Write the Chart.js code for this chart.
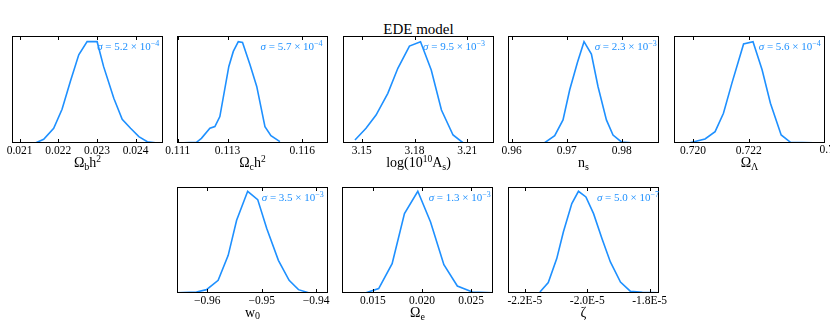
<!DOCTYPE html>
<html>
<head>
<meta charset="utf-8">
<script src="https://cdn.jsdelivr.net/npm/chart.js@4.4.0/dist/chart.umd.min.js"></script>
<style>
body{margin:0;background:#fff;width:830px;height:327px;overflow:hidden;position:relative;font-family:'Liberation Serif',serif}
canvas{position:absolute}
#title{position:absolute;left:343px;width:151px;top:20px;text-align:center;font-size:15px;line-height:18px;color:#000}
</style>
</head>
<body>
<div id="title">EDE model</div>
<canvas id="c1" width="211" height="157" style="left:-18px;top:26px"></canvas>
<canvas id="c2" width="211" height="157" style="left:147px;top:26px"></canvas>
<canvas id="c3" width="211" height="157" style="left:313px;top:26px"></canvas>
<canvas id="c4" width="211" height="157" style="left:478px;top:26px"></canvas>
<canvas id="c5" width="211" height="157" style="left:644px;top:26px"></canvas>
<canvas id="c6" width="211" height="156" style="left:147px;top:177px"></canvas>
<canvas id="c7" width="211" height="156" style="left:312px;top:177px"></canvas>
<canvas id="c8" width="211" height="156" style="left:478px;top:177px"></canvas>
<script>
// posterior curves, normalised to peak = 1
const obhX = [0.020802, 0.021407, 0.021622, 0.021881, 0.022097, 0.022313, 0.022529, 0.022745, 0.023004, 0.023170, 0.023435, 0.023652, 0.023868, 0.024083, 0.024301, 0.024560, 0.024715];
const obhY = [0, 0, 0.036, 0.145, 0.333, 0.61, 0.871, 1.0, 1.0, 0.756, 0.442, 0.234, 0.145, 0.063, 0.013, 0, 0];
const ochX = [0.11099, 0.11175, 0.11195, 0.11229, 0.11249, 0.11269, 0.11305, 0.11323, 0.11343, 0.11360, 0.11390, 0.11417, 0.11450, 0.11474, 0.11510];
const ochY = [0, 0.007, 0.046, 0.145, 0.162, 0.261, 0.756, 0.904, 1.0, 0.993, 0.772, 0.558, 0.162, 0.073, 0.013];
const logAX = [3.1461, 3.1524, 3.1581, 3.1648, 3.1705, 3.1771, 3.1834, 3.1895, 3.1953, 3.2019, 3.2077, 3.2252];
const logAY = [0.030, 0.145, 0.276, 0.49, 0.737, 0.957, 1.0, 0.72, 0.326, 0.079, 0, 0];
const nsX = [0.95933, 0.96600, 0.96782, 0.96933, 0.97055, 0.97195, 0.97315, 0.97449, 0.97569, 0.97722, 0.97842, 0.97995, 0.98236];
const nsY = [0, 0.003, 0.073, 0.228, 0.525, 0.795, 1.0, 0.878, 0.558, 0.228, 0.079, 0.010, 0];
const olX = [0.719315, 0.719892, 0.720432, 0.720793, 0.721092, 0.721395, 0.721813, 0.722151, 0.722476, 0.722775, 0.723160, 0.723495, 0.724732];
const olY = [0, 0.003, 0.040, 0.112, 0.294, 0.591, 0.977, 1.0, 0.723, 0.393, 0.079, 0.007, 0];
const w0X = [-0.965572, -0.961993, -0.960148, -0.958007, -0.956162, -0.954613, -0.952583, -0.950738, -0.949077, -0.946937, -0.944963, -0.943247, -0.941402];
const w0Y = [0.003, 0.010, 0.033, 0.125, 0.370, 0.715, 1.0, 0.918, 0.633, 0.321, 0.125, 0.033, 0.003];
const oeX = [0.011816, 0.014306, 0.015592, 0.016959, 0.018214, 0.019571, 0.020867, 0.022224, 0.023592, 0.025122, 0.027224];
const oeY = [0, 0.003, 0.043, 0.289, 0.780, 1.0, 0.698, 0.279, 0.069, 0.010, 0.003];
const zetaX = [-2.1516e-5, -2.1248e-5, -2.0977e-5, -2.0765e-5, -2.0494e-5, -2.0281e-5, -2.0042e-5, -1.9797e-5, -1.9526e-5, -1.9258e-5, -1.8935e-5, -1.8613e-5, -1.8235e-5, -1.7700e-5];
const zetaY = [0.010, 0.102, 0.338, 0.600, 0.879, 1.0, 0.944, 0.780, 0.534, 0.305, 0.108, 0.016, 0.007, 0.003];

// tick values and labels
const obhTicks = [0.021, 0.022, 0.023, 0.024];
const obhLabels = ['0.021', '0.022', '0.023', '0.024'];
const ochTicks = [0.111, 0.113, 0.116];
const ochLabels = ['0.111', '0.113', '0.116'];
const logATicks = [3.15, 3.18, 3.21];
const logALabels = ['3.15', '3.18', '3.21'];
const nsTicks = [0.96, 0.97, 0.98];
const nsLabels = ['0.96', '0.97', '0.98'];
const olTicks = [0.720, 0.722];
const olLabels = ['0.720', '0.722'];
const w0Ticks = [-0.96, -0.95, -0.94];
const w0Labels = ['\u22120.96', '\u22120.95', '\u22120.94'];
const oeTicks = [0.015, 0.020, 0.025];
const oeLabels = ['0.015', '0.020', '0.025'];
const zetaTicks = [-2.2e-5, -2.0e-5, -1.8e-5];
const zetaLabels = ['-2.2E-5', '-2.0E-5', '-1.8E-5'];

const sigmas = ['5.2', '5.7', '9.5', '2.3', '5.6', '3.5', '1.3', '5.0'];
const sigmaExp = ['\u22124', '\u22124', '\u22123', '\u22123', '\u22124', '\u22123', '\u22123', '\u22127'];

const BLUE = 'rgb(30,144,255)';
const FONT = '"Liberation Serif", "Times New Roman", serif';

function drawRich(ctx, parts, x, y, align) {
    let w = 0;
    parts.forEach(p => {
        ctx.font = (p[3] ? 'italic ' : '') + p[1] + 'px ' + FONT;
        w += ctx.measureText(p[0]).width;
    });
    let cx = align === 'center' ? x - w / 2 : x;
    parts.forEach(p => {
        ctx.font = (p[3] ? 'italic ' : '') + p[1] + 'px ' + FONT;
        ctx.fillText(p[0], cx, y + p[2]);
        cx += ctx.measureText(p[0]).width;
    });
}

const framePlugin = {
    id: 'frame',
    afterDraw(chart) {
        const o = chart.options.plugins.frame;
        const {ctx, chartArea: a} = chart;
        const x = chart.scales.x;
        ctx.save();
        ctx.strokeStyle = '#000';
        ctx.lineWidth = 1;
        ctx.strokeRect(a.left + 0.5, a.top + 0.5, a.right - a.left - 1, a.bottom - a.top - 1);
        ctx.beginPath();
        x.ticks.forEach(t => {
            const px = Math.round(x.getPixelForValue(t.value)) + 0.5;
            if (px < a.left || px > a.right) return;
            ctx.moveTo(px, a.bottom);
            ctx.lineTo(px, a.bottom - 4);
            ctx.moveTo(px, a.top);
            ctx.lineTo(px, a.top + 4);
        });
        ctx.stroke();
        ctx.fillStyle = '#000';
        ctx.textBaseline = 'alphabetic';
        drawRich(ctx, o.title, (a.left + a.right) / 2, a.bottom + 24, 'center');
        if (o.extra) {
            ctx.font = '11.5px ' + FONT;
            ctx.textAlign = 'center';
            ctx.textBaseline = 'top';
            ctx.fillText(o.extra[1], x.getPixelForValue(o.extra[0]), a.bottom + 1);
            ctx.textAlign = 'left';
            ctx.textBaseline = 'alphabetic';
        }
        ctx.beginPath();
        ctx.rect(a.left, a.top, a.right - a.left, a.bottom - a.top);
        ctx.clip();
        ctx.fillStyle = BLUE;
        drawRich(ctx, [['\u03c3', 11, 0, true], [' = ' + o.sigma + ' \u00d7 10', 11, 0], [o.exp, 8, -4]],
            a.left + o.at * (a.right - a.left), a.top + 14, 'left');
        ctx.restore();
    }
};

function panel(id, xs, ys, xmin, xmax, ymax, ticks, labels, k, at, title, extra) {
    new Chart(document.getElementById(id), {
        type: 'line',
        data: {
            datasets: [{
                data: xs.map((v, i) => ({x: v, y: ys[i]})),
                borderColor: BLUE,
                borderWidth: 1.6,
                pointRadius: 0,
                tension: 0,
                fill: false
            }]
        },
        options: {
            responsive: false,
            animation: false,
            layout: {padding: {left: 30, right: 30, top: 10, bottom: 0}},
            plugins: {
                legend: {display: false},
                tooltip: {enabled: false},
                frame: {title: title, sigma: sigmas[k], exp: sigmaExp[k], at: at, extra: extra}
            },
            scales: {
                x: {
                    type: 'linear',
                    min: xmin,
                    max: xmax,
                    afterBuildTicks: s => { s.ticks = ticks.map(v => ({value: v})); },
                    afterFit: s => { s.height = 40; },
                    grid: {display: false, drawTicks: false},
                    border: {display: false},
                    ticks: {
                        autoSkip: false,
                        maxRotation: 0,
                        padding: 1,
                        color: '#000',
                        font: {family: FONT, size: 11.5},
                        callback: (v, i) => labels[i]
                    }
                },
                y: {display: false, min: 0, max: ymax}
            }
        },
        plugins: [framePlugin]
    });
}

panel('c1', obhX, obhY, 0.020803, 0.024707, 1.056, obhTicks, obhLabels, 0, 0.564,
    [['\u03a9', 14, 0], ['b', 10, 3], ['h', 14, 0], ['2', 9.5, -5]]);
panel('c2', ochX, ochY, 0.11097, 0.11703, 1.056, ochTicks, ochLabels, 1, 0.553,
    [['\u03a9', 14, 0], ['c', 10, 3], ['h', 14, 0], ['2', 9.5, -5]]);
panel('c3', logAX, logAY, 3.1393, 3.2252, 1.056, logATicks, logALabels, 2, 0.53,
    [['log(10', 14, 0], ['10', 9.5, -5], ['A', 14, 0], ['s', 10, 3], [')', 14, 0]]);
panel('c4', nsX, nsY, 0.95933, 0.98678, 1.056, nsTicks, nsLabels, 3, 0.574,
    [['n', 14, 0], ['s', 10, 3]]);
panel('c5', olX, olY, 0.71932, 0.72473, 1.056, olTicks, olLabels, 4, 0.561,
    [['\u03a9', 14, 0], ['\u039b', 10, 3]], [0.725, '0.725']);
panel('c6', w0X, w0Y, -0.96557, -0.93782, 1.042, w0Ticks, w0Labels, 5, 0.561,
    [['w', 14, 0], ['0', 10, 2]]);
panel('c7', oeX, oeY, 0.01186, 0.02722, 1.042, oeTicks, oeLabels, 6, 0.574,
    [['\u03a9', 14, 0], ['e', 10, 3]]);
panel('c8', zetaX, zetaY, -2.2539e-5, -1.770e-5, 1.042, zetaTicks, zetaLabels, 7, 0.589,
    [['\u03b6', 14, 0]]);
</script>
</body>
</html>
